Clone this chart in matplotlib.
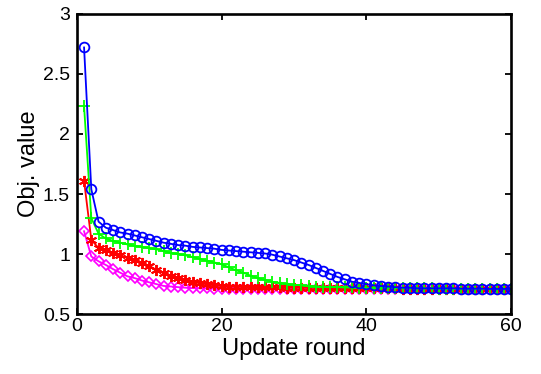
import numpy as np
import matplotlib
matplotlib.use("Agg")
import matplotlib.pyplot as plt
from matplotlib.ticker import FormatStrFormatter

plt.rcParams['font.family'] = ['Liberation Sans', 'DejaVu Sans']

# update rounds 1..60
rounds = np.arange(1, 61)

obj_blue = [2.72, 1.54, 1.27, 1.22, 1.20, 1.18, 1.17, 1.155, 1.14, 1.125,
            1.11, 1.095, 1.085, 1.075, 1.07, 1.06, 1.055, 1.05, 1.045, 1.035,
            1.03, 1.025, 1.02, 1.015, 1.01, 1.005, 0.995, 0.98, 0.965, 0.95,
            0.93, 0.91, 0.885, 0.86, 0.835, 0.81, 0.79, 0.77, 0.76, 0.75,
            0.74, 0.735, 0.73, 0.725, 0.72, 0.72, 0.715, 0.715, 0.715, 0.715,
            0.715, 0.715, 0.712, 0.712, 0.712, 0.712, 0.71, 0.71, 0.71, 0.71]
obj_green = [2.23, 1.30, 1.17, 1.13, 1.11, 1.095, 1.08, 1.07, 1.06, 1.05,
             1.04, 1.025, 1.01, 1.0, 0.99, 0.975, 0.96, 0.945, 0.93, 0.915,
             0.89, 0.865, 0.845, 0.82, 0.80, 0.785, 0.77, 0.76, 0.75, 0.745,
             0.74, 0.735, 0.73, 0.73, 0.725, 0.725, 0.722, 0.722, 0.72, 0.72,
             0.72, 0.718, 0.718, 0.716, 0.716, 0.715, 0.715, 0.714, 0.714, 0.713,
             0.713, 0.712, 0.712, 0.711, 0.711, 0.71, 0.71, 0.71, 0.71, 0.71]
obj_red = [1.61, 1.12, 1.05, 1.03, 1.01, 0.99, 0.97, 0.95, 0.925, 0.90,
           0.87, 0.845, 0.82, 0.80, 0.785, 0.77, 0.76, 0.75, 0.74, 0.735,
           0.73, 0.728, 0.726, 0.725, 0.724, 0.723, 0.722, 0.722, 0.721, 0.72,
           0.72, 0.72, 0.719, 0.719, 0.718, 0.718, 0.717, 0.717, 0.716, 0.716,
           0.715, 0.715, 0.714, 0.714, 0.713, 0.713, 0.712, 0.712, 0.711, 0.711,
           0.711, 0.71, 0.71, 0.71, 0.71, 0.71, 0.71, 0.71, 0.71, 0.71]
obj_magenta = [1.19, 0.98, 0.94, 0.91, 0.875, 0.845, 0.815, 0.80, 0.78, 0.765,
               0.75, 0.735, 0.73, 0.725, 0.72, 0.717, 0.715, 0.714, 0.713, 0.712,
               0.712, 0.711, 0.711, 0.71, 0.71, 0.71, 0.71, 0.71, 0.71, 0.71,
               0.71, 0.71, 0.71, 0.71, 0.71, 0.71, 0.71, 0.71, 0.71, 0.71,
               0.71, 0.71, 0.71, 0.71, 0.71, 0.71, 0.71, 0.71, 0.71, 0.71,
               0.71, 0.71, 0.71, 0.71, 0.71, 0.71, 0.71, 0.71, 0.71, 0.71]

x_ticks = [0, 20, 40, 60]
y_ticks = [0.5, 1, 1.5, 2, 2.5, 3]

fig = plt.figure(figsize=(5.41, 3.74), dpi=100)
ax = fig.add_axes([0.142, 0.160, 0.803, 0.803])

ax.plot(rounds, obj_magenta, color='#ff00ff', marker='D', markersize=5.5,
        markerfacecolor='none', markeredgewidth=1.2, linewidth=1.3)
ax.plot(rounds, obj_red, color='#ff0000', marker=(6, 2, 0), markersize=8,
        markeredgewidth=1.4, linewidth=1.3)
ax.plot(rounds, obj_green, color='#00ff00', marker='+', markersize=8.5,
        markeredgewidth=1.3, linewidth=1.3)
ax.plot(rounds, obj_blue, color='#0000ff', marker='o', markersize=7,
        markerfacecolor='none', markeredgewidth=1.3, linewidth=1.3)

ax.set_xlim(0, 60)
ax.set_ylim(0.5, 3)
ax.set_xticks(x_ticks)
ax.set_yticks(y_ticks)
ax.yaxis.set_major_formatter(FormatStrFormatter('%g'))
ax.tick_params(direction='in', length=4, width=1.3, top=True, right=True,
               labelsize=14)
ax.tick_params(axis='x', pad=3)
ax.tick_params(axis='y', pad=5)
for s in ax.spines.values():
    s.set_linewidth(1.9)

ax.set_xlabel('Update round', fontsize=17, labelpad=2)
ax.set_ylabel('Obj. value', fontsize=17, labelpad=2)

fig.savefig('out.png', dpi=100)
